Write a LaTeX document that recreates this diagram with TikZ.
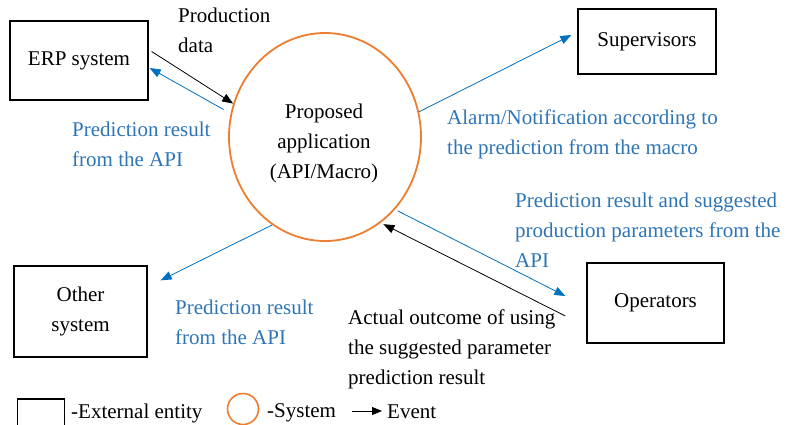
\documentclass[tikz,border=0pt]{standalone}
\usepackage{fontspec}
\setmainfont{Liberation Serif}
\usetikzlibrary{arrows.meta,shapes.geometric,calc}
\definecolor{linkblue}{HTML}{0070C0}
\definecolor{labelblue}{HTML}{2E75B6}
\definecolor{sysorange}{HTML}{ED7D31}
\begin{document}
\begin{tikzpicture}[x=1pt,y=-1pt,
  txt/.style={font=\fontsize{21}{30}\selectfont, inner sep=0pt},
  lbl/.style={txt, align=left, anchor=base west},
  entity/.style={txt, draw, line width=1.3pt, align=center},
  flow/.style={line width=0.8pt, -{Triangle[length=11pt,width=8.5pt]}},
  bluelbl/.style={lbl, text=labelblue},
]
\useasboundingbox (0,0) rectangle (789,424);
\clip (0,0) rectangle (789,424);

% external entities
\node[entity, minimum width=138pt, minimum height=79pt] (erp) at (79,60.5) {ERP system};
\node[entity, minimum width=138pt, minimum height=65pt] (sup) at (647,41.5) {Supervisors};
\node[entity, minimum width=133pt, minimum height=91pt] (oth) at (80.5,311.5) {Other\\system};
\node[entity, minimum width=137pt, minimum height=80pt] (ops) at (655.5,303) {Operators};

% the system
\node[ellipse, draw=sysorange, line width=1.8pt, minimum width=192pt, minimum height=208pt, inner sep=0pt] (sys) at (325,137) {};
\node[txt, align=center] (sysname) at (324,143) {Proposed\\application\\(API/Macro)};

% data flows
\draw[flow] ($(erp.east)+(3,-9)$) -- (sys.160);
\draw[flow, linkblue, shorten <=8pt] (sys.166) -- ($(erp.east)+(1,7.5)$);
\draw[flow, linkblue] (sys.15) -- ($(sup.west)+(-6,-6.5)$);
\draw[flow, linkblue] (sys.239) -- ($(oth.north east)+(13,15)$);
\draw[flow, linkblue, shorten <=3pt] (sys.314) -- ($(ops.west)+(-21,-7)$);
\draw[flow, shorten >=3pt] ($(ops.west)+(-21,13)$) -- (sys.303);

% flow labels (anchored at the baseline of their last line)
\node[lbl] (lprod) at (178,52) {Production\\data};
\node[bluelbl] (lerp) at (72,166) {Prediction result\\from the API};
\node[bluelbl] (lsup) at (447,154) {Alarm/Notification according to\\the prediction from the macro};
\node[bluelbl] (lops) at (515,267) {Prediction result and suggested\\production parameters from the\\API};
\node[bluelbl] (loth) at (175,344) {Prediction result\\from the API};
\node[lbl] (lact) at (348,384) {Actual outcome of using\\the suggested parameter\\prediction result};

% legend
\node[draw, line width=1.2pt, minimum width=47pt, minimum height=30pt, inner sep=0pt] (legbox) at (41,414) {};
\node[lbl] (legboxtxt) at (71,418) {-External entity};
\node[circle, draw=sysorange, line width=1.6pt, minimum size=31pt, inner sep=0pt] (legsys) at (243,409) {};
\node[lbl] (legsystxt) at (267,417) {-System};
\coordinate (evA) at (352,411);
\coordinate (evB) at (382,411);
\draw[line width=0.8pt, -{Triangle[length=10pt,width=8pt]}] (evA) -- (evB);
\node[lbl] (legevtxt) at (387,418) {Event};
\end{tikzpicture}
\end{document}
